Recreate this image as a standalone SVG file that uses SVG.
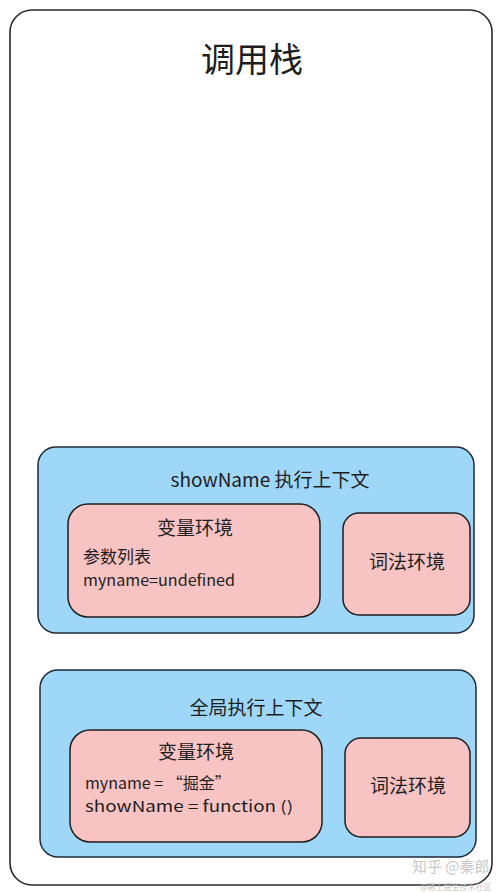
<svg xmlns="http://www.w3.org/2000/svg" width="500" height="893" viewBox="0 0 500 893">
<style>
.frame{fill:#ffffff;stroke:#2a2a2a;stroke-width:1.6}
.blue{fill:#9fd7f9;stroke:#1e2a38;stroke-width:1.5}
.pink{fill:#f8c3c3;stroke:#1e1e1e;stroke-width:1.5}
.t{font-family:"Noto Sans CJK SC","Liberation Sans",sans-serif;fill:#1e1e1e}
.h{font-size:19px;text-anchor:middle}
.b{font-size:15px}
.wm{font-family:"Noto Sans CJK SC",sans-serif;fill:#c8c8c8}
</style>
<rect width="500" height="893" fill="#ffffff"/>
<g id="callstack">
<rect class="frame" x="10" y="10" width="482" height="875" rx="22"/>
<text class="t" x="252" y="72" font-size="34" text-anchor="middle">调用栈</text>
</g>
<g id="showname-ctx">
<rect class="blue" x="38" y="447" width="436" height="186" rx="18"/>
<text class="t h" x="270" y="487">showName 执行上下文</text>
</g>
<g id="showname-var">
<rect class="pink" x="68" y="504" width="252" height="113" rx="20"/>
<text class="t h" x="195" y="535">变量环境</text>
<text class="t" x="83" y="563" font-size="17">参数列表</text>
<text class="t b" x="83" y="586" textLength="152" lengthAdjust="spacingAndGlyphs">myname=undefined</text>
</g>
<g id="showname-lex">
<rect class="pink" x="343" y="513" width="127" height="102" rx="16"/>
<text class="t h" x="407" y="569">词法环境</text>
</g>
<g id="global-ctx">
<rect class="blue" x="40" y="670" width="436" height="187" rx="18"/>
<text class="t h" x="256" y="715">全局执行上下文</text>
</g>
<g id="global-var">
<rect class="pink" x="70" y="730" width="252" height="112" rx="20"/>
<text class="t h" x="196" y="759">变量环境</text>
<text class="t" x="85" y="789" font-size="16">myname = “掘金”</text>
<text class="t b" x="85" y="812" textLength="208" lengthAdjust="spacingAndGlyphs">showName = function ()</text>
</g>
<g id="global-lex">
<rect class="pink" x="345" y="738" width="125" height="99" rx="16"/>
<text class="t h" x="408" y="793">词法环境</text>
</g>
<g id="watermark">
<text class="wm" x="412" y="872" font-size="15">知乎 @秦郎</text>
<text class="wm" x="420" y="890" font-size="8">@稀土掘金技术社区</text>
</g>
<g id="connectors"></g>
</svg>
